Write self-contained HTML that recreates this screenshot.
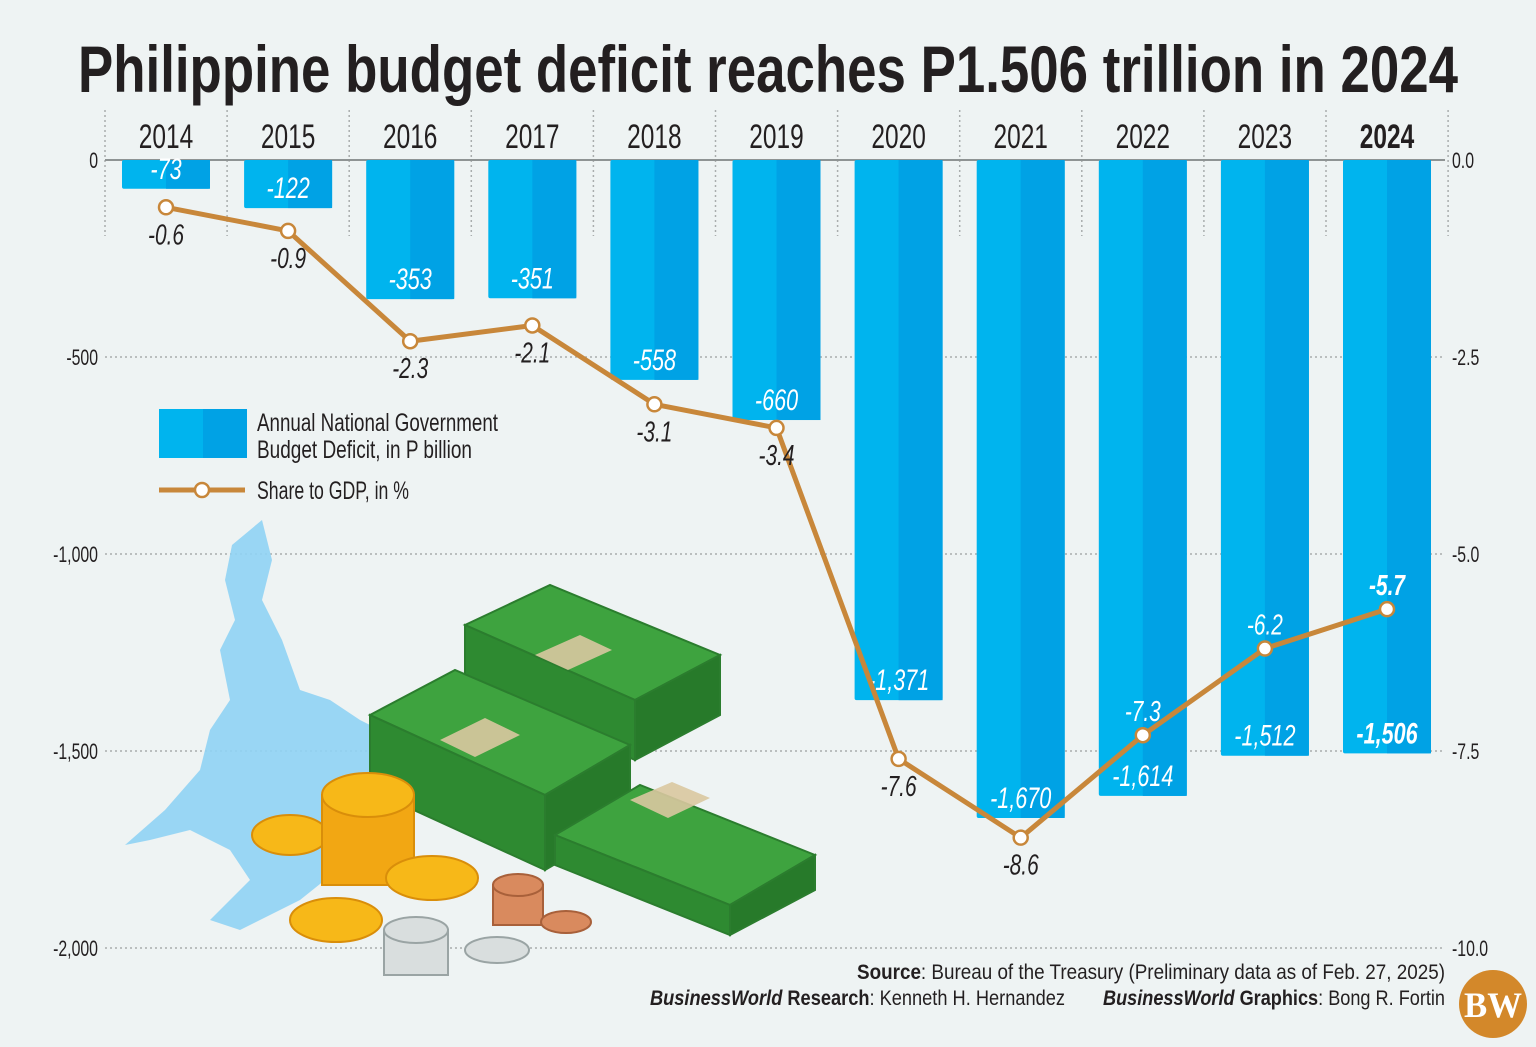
<!DOCTYPE html>
<html><head><meta charset="utf-8"><style>
html,body{margin:0;padding:0;background:#eef3f3;}
svg{display:block;font-family:"Liberation Sans Narrow","Liberation Sans",sans-serif;}
</style></head><body>
<svg id="chart" width="1536" height="1047" viewBox="0 0 1536 1047" xmlns="http://www.w3.org/2000/svg">
<rect width="1536" height="1047" fill="#eef3f3"/>
<text x="78" y="92" font-size="66" font-weight="bold" fill="#231f20" textLength="1380" lengthAdjust="spacingAndGlyphs">Philippine budget deficit reaches P1.506 trillion in 2024</text>
<g id="grid"></g>
<g id="illustration">
  <path fill="#8fd3f4" opacity="0.9" d="M232,545 L262,520 L272,560 L262,600 L282,640 L300,690 L330,700 L360,720 L400,740 L410,790 L390,830 L350,860 L300,900 L240,930 L210,920 L250,880 L230,850 L190,830 L150,840 L125,845 L165,810 L200,770 L210,730 L230,700 L220,650 L235,620 L225,580 Z"/>
  <g fill="#3ea33f" stroke="#2b7d2e" stroke-width="2">
    <polygon points="465,625 550,585 720,655 635,700"/>
    <polygon points="465,625 635,700 635,760 465,685" fill="#2e8a31"/>
    <polygon points="635,700 720,655 720,715 635,760" fill="#277a2a"/>
    <polygon points="370,715 455,670 630,745 545,795"/>
    <polygon points="370,715 545,795 545,870 370,790" fill="#2e8a31"/>
    <polygon points="545,795 630,745 630,820 545,870" fill="#277a2a"/>
    <polygon points="555,835 640,785 815,855 730,905"/>
    <polygon points="555,835 730,905 730,935 555,865" fill="#2e8a31"/>
    <polygon points="730,905 815,855 815,890 730,935" fill="#277a2a"/>
  </g>
  <g fill="#d9c8a0" opacity="0.9">
    <polygon points="535,655 580,635 612,650 568,670"/>
    <polygon points="440,740 485,718 520,735 475,757"/>
    <polygon points="630,800 672,782 710,798 668,818"/>
  </g>
  <g fill="#f7b818" stroke="#d98e0a" stroke-width="2">
    <ellipse cx="290" cy="835" rx="38" ry="20"/>
    <rect x="322" y="795" width="92" height="90" fill="#f2a713"/>
    <ellipse cx="368" cy="795" rx="46" ry="22"/>
    <ellipse cx="432" cy="878" rx="46" ry="22"/>
    <ellipse cx="336" cy="920" rx="46" ry="22"/>
  </g>
  <g fill="#d9dede" stroke="#9aa4a4" stroke-width="2">
    <rect x="384" y="930" width="64" height="45"/>
    <ellipse cx="416" cy="930" rx="32" ry="13"/>
    <ellipse cx="497" cy="950" rx="32" ry="13"/>
  </g>
  <g fill="#d98a5e" stroke="#a8603a" stroke-width="2">
    <rect x="493" y="885" width="50" height="40"/>
    <ellipse cx="518" cy="885" rx="25" ry="11"/>
    <ellipse cx="566" cy="922" rx="25" ry="11"/>
  </g>
</g>
<g id="bars"></g>
<g id="line"></g>
<g id="legend">
  <rect x="159" y="409" width="44" height="49" fill="#00b4ee"/>
  <rect x="203" y="409" width="44" height="49" fill="#00a2e5"/>
  <text x="257" y="431" font-size="25" fill="#231f20" textLength="241" lengthAdjust="spacingAndGlyphs">Annual National Government</text>
  <text x="257" y="458" font-size="25" fill="#231f20" textLength="215" lengthAdjust="spacingAndGlyphs">Budget Deficit, in P billion</text>
  <line x1="159" y1="490" x2="245" y2="490" stroke="#c8873a" stroke-width="5"/>
  <circle cx="202" cy="490" r="7" fill="#fff" stroke="#c8873a" stroke-width="2.5"/>
  <text x="257" y="499" font-size="25" fill="#231f20" textLength="152" lengthAdjust="spacingAndGlyphs">Share to GDP, in %</text>
</g>
<text x="857" y="979" font-size="21" fill="#231f20" textLength="588" lengthAdjust="spacingAndGlyphs"><tspan font-weight="bold">Source</tspan>: Bureau of the Treasury (Preliminary data as of Feb. 27, 2025)</text>
<text x="650" y="1005" font-size="21" fill="#231f20" textLength="415" lengthAdjust="spacingAndGlyphs"><tspan font-weight="bold" font-style="italic">BusinessWorld</tspan><tspan font-weight="bold"> Research</tspan>: Kenneth H. Hernandez</text>
<text x="1103" y="1005" font-size="21" fill="#231f20" textLength="342" lengthAdjust="spacingAndGlyphs"><tspan font-weight="bold" font-style="italic">BusinessWorld</tspan><tspan font-weight="bold"> Graphics</tspan>: Bong R. Fortin</text>
<circle cx="1493" cy="1004" r="34" fill="#d3882a"/>
<text x="1493" y="1017" font-size="36" font-weight="bold" font-family="Liberation Serif,serif" text-anchor="middle" fill="#fff" textLength="58" lengthAdjust="spacingAndGlyphs">BW</text>
</svg>
<script>
const years=["2014","2015","2016","2017","2018","2019","2020","2021","2022","2023","2024"];
const deficit=[-73,-122,-353,-351,-558,-660,-1371,-1670,-1614,-1512,-1506];
const deficitLabels=["-73","-122","-353","-351","-558","-660","-1,371","-1,670","-1,614","-1,512","-1,506"];
const gdpShare=[-0.6,-0.9,-2.3,-2.1,-3.1,-3.4,-7.6,-8.6,-7.3,-6.2,-5.7];
const leftTicks=[0,-500,-1000,-1500,-2000];
const leftTickLabels=["0","-500","-1,000","-1,500","-2,000"];
const rightTicks=[0,-2.5,-5,-7.5,-10];
const rightTickLabels=["0.0","-2.5","-5.0","-7.5","-10.0"];

const NS="http://www.w3.org/2000/svg";
const y0=160,yL=948;
const yLeft=v=>y0+(v/-2000)*(yL-y0);
const yRight=v=>y0+(v/-10)*(yL-y0);
const xC=i=>166+i*122.1;
const BW=88;
const SQ=0.72;
function mk(tag,attrs,parent,text){const e=document.createElementNS(NS,tag);for(const k in attrs)e.setAttribute(k,attrs[k]);if(text!==undefined)e.textContent=text;parent.appendChild(e);return e;}
function ctext(x,y,attrs,parent,text){const a=Object.assign({x:0,y:0,transform:'translate('+x+','+y+') scale('+SQ+',1)'},attrs);return mk('text',a,parent,text);}
const grid=document.getElementById('grid'),bars=document.getElementById('bars'),line=document.getElementById('line');
leftTicks.forEach((t,i)=>{
  const y=yLeft(t);
  if(i>0){const g=mk('line',{x1:105,x2:1445,y1:y,y2:y,stroke:'#a9adad','stroke-width':1.5,'stroke-dasharray':'2,3'},grid);
  
  }
  const l=ctext(98,y+8,{'font-size':22,'text-anchor':'end',fill:'#231f20'},grid,leftTickLabels[i]);
  
  
});
rightTicks.forEach((t,i)=>{
  const l=ctext(1452,yRight(t)+8,{'font-size':22,fill:'#231f20'},grid,rightTickLabels[i]);
  
  
});
for(let i=0;i<=years.length;i++){
  const x=xC(i)-61;
  const s=mk('line',{x1:x,x2:x,y1:110,y2:236,stroke:'#a9adad','stroke-width':1.5,'stroke-dasharray':'2,3'},grid);
  
  
}
const z=mk('line',{x1:105,x2:1445,y1:y0,y2:y0,stroke:'#8e9393','stroke-width':2},grid);


years.forEach((yr,i)=>{
  const last=i===years.length-1;
  const t=ctext(xC(i),148,{'font-size':34,'text-anchor':'middle',fill:'#231f20','font-weight':last?'bold':'normal'},grid,yr);
  
  
  const yb=yLeft(deficit[i]);
  const g=mk('g',{},bars);
  
  
  mk('rect',{x:xC(i)-BW/2,y:y0,width:BW,height:yb-y0,fill:'#00b4ee',rx:2},g);
  mk('rect',{x:xC(i),y:y0,width:BW/2,height:yb-y0,fill:'#00a2e5'},g);
  const v=ctext(xC(i),yb-10,{'font-size':30,'text-anchor':'middle',fill:'#fff','font-style':'italic','font-weight':last?'bold':'normal'},g,deficitLabels[i]);
  
  
});
const pts=gdpShare.map((v,i)=>[xC(i),yRight(v)]);
const pl=mk('polyline',{points:pts.map(p=>p.join(',')).join(' '),fill:'none',stroke:'#c8873a','stroke-width':5,'stroke-linejoin':'round'},line);


pts.forEach((p,i)=>{
  const c=mk('circle',{cx:p[0],cy:p[1],r:7,fill:'#fff',stroke:'#c8873a','stroke-width':2.5},line);
  
  
  const above=i>=8;
  const last=i===years.length-1;
  const t=ctext(p[0],above?p[1]-14:p[1]+37,{'font-size':29,'text-anchor':'middle',fill:above?'#fff':'#231f20','font-style':'italic','font-weight':last?'bold':'normal'},line,gdpShare[i].toFixed(1));
  
  
});
</script>
</body></html>
